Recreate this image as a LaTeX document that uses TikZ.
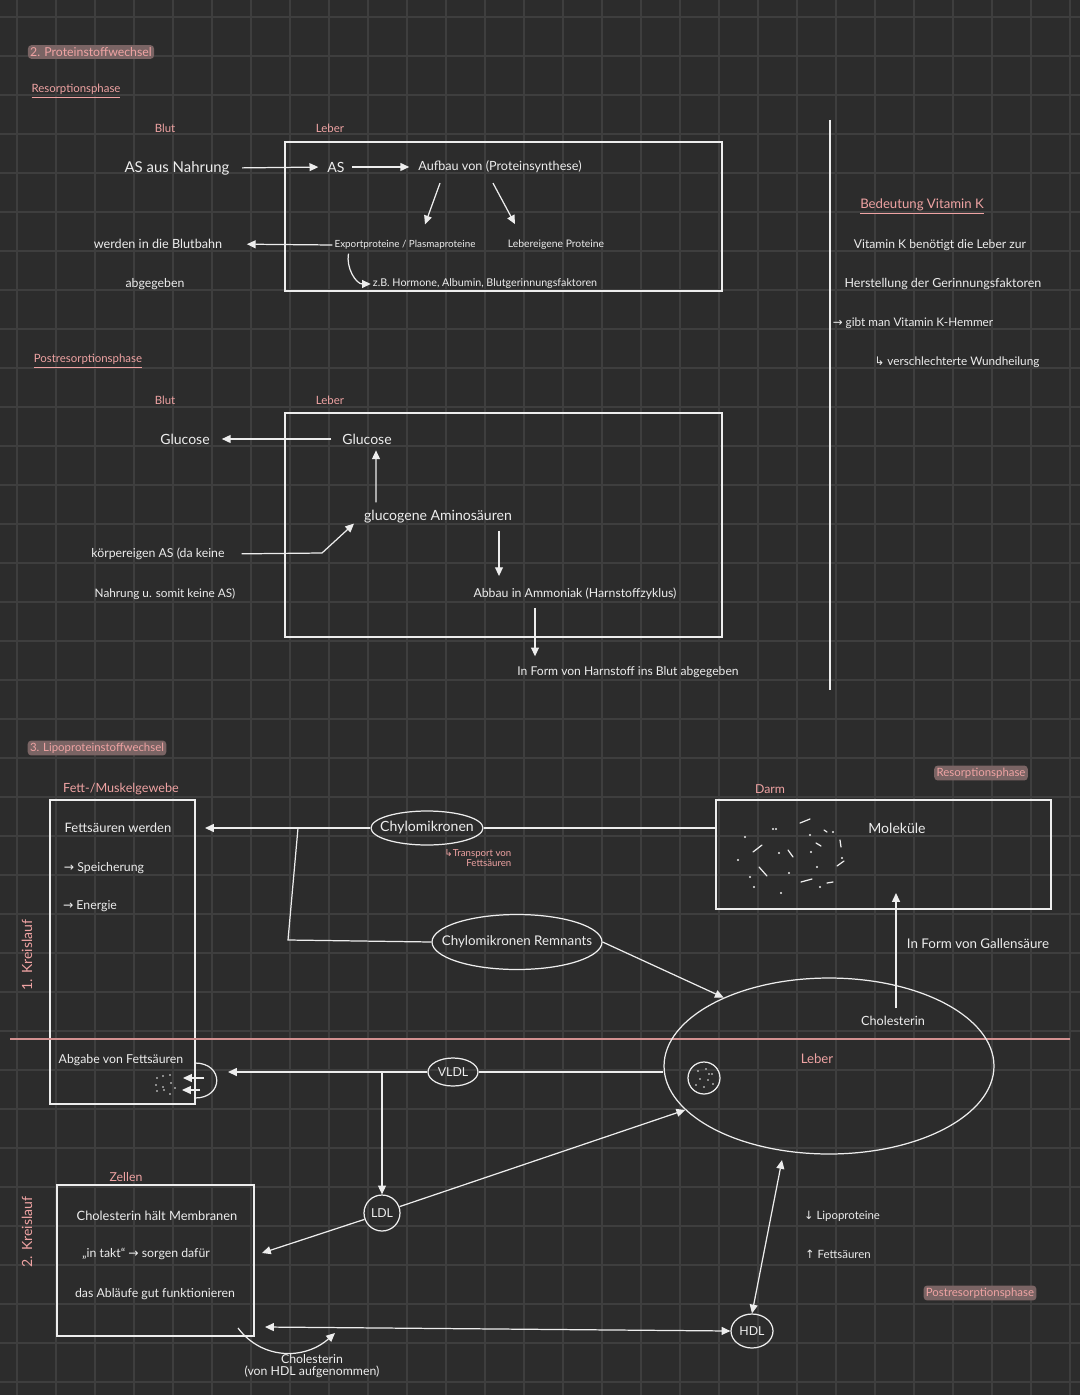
\documentclass[tikz,border=0pt]{standalone}
\usepackage{fontspec}
\setmainfont{Lato}
\newfontfamily\symfont{DejaVu Sans}
\usetikzlibrary{arrows.meta,shapes.geometric,calc}

\definecolor{bg}{HTML}{2C2C2C}
\definecolor{gridc}{HTML}{3E3E3E}
\definecolor{rosa}{HTML}{EFA3A3}
\definecolor{hl}{HTML}{7A6464}
\definecolor{kreide}{HTML}{EDEDED}
\newcommand{\fs}[1]{\fontsize{#1}{#1}\selectfont}
\newcommand{\pfeil}[1]{{\symfont #1}}

\tikzset{
  txt/.style={text=kreide, font=\fs{7.5}, inner sep=1pt},
  rosatxt/.style={text=rosa, font=\fs{6.5}, inner sep=1pt},
  marker/.style={text=rosa, fill=hl, font=\fs{6.5}, inner sep=1.3pt, rounded corners=2pt},
  kasten/.style={draw=kreide, line width=0.8pt},
  linie/.style={draw=kreide, line width=0.7pt},
  pfeilstil/.style={linie, -{Triangle[length=5pt,width=4.5pt]}},
  doppelpfeil/.style={linie, {Triangle[length=5pt,width=4.5pt]}-{Triangle[length=5pt,width=4.5pt]}},
  oval/.style={ellipse, draw=kreide, line width=0.7pt, text=kreide, inner xsep=-10pt, inner ysep=0pt},
}

\begin{document}
\begin{tikzpicture}[x=0.02cm, y=-0.02cm]
% hintergrund + raster
\fill[bg] (0,0) rectangle (1080,1395);
\useasboundingbox (0,0) rectangle (1080,1395);
\foreach \g in {17,56,...,1080} \draw[gridc, line width=0.6pt] (\g,0) -- (\g,1395);
\foreach \g in {17,56,...,1395} \draw[gridc, line width=0.6pt] (0,\g) -- (1080,\g);

%%%%% 2. Proteinstoffwechsel %%%%%
\node[marker, font=\fs{7}] (titelprot) at (91,52) {2. Proteinstoffwechsel};
\node[rosatxt] (resphase) at (76,91) {\underline{Resorptionsphase}};
\node[rosatxt] (blutA) at (165,128) {Blut};
\node[rosatxt] (leberA) at (330,128) {Leber};
\draw[kasten] (285,142) rectangle (722,291);

\node[txt, font=\fs{8.5}] (asnahrung) at (177,168) {AS aus Nahrung};
\node[txt, font=\fs{8}] (as) at (336,167) {AS};
\node[txt, font=\fs{7.2}] (aufbau) at (500,167) {Aufbau von (Proteinsynthese)};
\node[txt, font=\fs{5.6}] (export) at (405,245) {Exportproteine / Plasmaproteine};
\node[txt, font=\fs{5.9}] (lebereigen) at (556,245) {Lebereigene Proteine};
\node[txt, font=\fs{7.2}] (blutbahn) at (158,244) {werden in die Blutbahn};
\node[txt, font=\fs{7}] (abgegeben) at (155,284) {abgegeben};
\node[txt, font=\fs{6.1}] (zb) at (485,284) {z.B. Hormone, Albumin, Blutgerinnungsfaktoren};

\draw[pfeilstil, shorten <=6pt, shorten >=4pt] (asnahrung.east) -- (as.west);
\draw[pfeilstil, shorten <=3pt, shorten >=4pt] (as.east) -- (aufbau.west);
\draw[pfeilstil] ($(aufbau.south)+(-60,8)$) -- ($(export.north)+(20,-14)$);
\draw[pfeilstil] ($(aufbau.south)+(-7,8)$) -- ($(lebereigen.north)+(-41,-14)$);
\draw[pfeilstil, shorten >=0.45cm] (export.west) -- (blutbahn.east);
\draw[pfeilstil] ($(export.south west)+(16,2)$) to[out=-100, in=180] (zb.west);

% Bedeutung Vitamin K
\draw[linie] (830,120) -- (830,690);
\node[rosatxt, font=\fs{7.5}] (bedeutung) at (922,207) {\underline{Bedeutung Vitamin K}};
\node[txt, font=\fs{6.9}] (vitk1) at (940,245) {Vitamin K benötigt die Leber zur};
\node[txt, font=\fs{7.1}] (vitk2) at (943,284) {Herstellung der Gerinnungsfaktoren};
\node[txt, font=\fs{6.7}] (vitk3) at (913,323) {\pfeil{→} gibt man Vitamin K-Hemmer};
\node[txt, font=\fs{6.7}] (vitk4) at (957,362) {\pfeil{↳} verschlechterte Wundheilung};

%%%%% Postresorptionsphase %%%%%
\node[rosatxt] (postphase) at (88,361) {\underline{Postresorptionsphase}};
\node[rosatxt] (blutB) at (165,400) {Blut};
\node[rosatxt] (leberB) at (330,400) {Leber};
\draw[kasten] (285,413) rectangle (722,637);

\node[txt, font=\fs{8}] (glucoseblut) at (185,439) {Glucose};
\node[txt, font=\fs{8}] (glucoseleber) at (367,439) {Glucose};
\node[txt, font=\fs{8}] (glucogen) at (438,517) {glucogene Aminosäuren};
\node[txt, font=\fs{7}] (koerper) at (158,554) {körpereigen AS (da keine};
\node[txt, font=\fs{6.7}] (nahrung) at (165,594) {Nahrung u. somit keine AS)};
\node[txt, font=\fs{7}] (abbau) at (575,594) {Abbau in Ammoniak (Harnstoffzyklus)};
\node[txt, font=\fs{6.9}] (harnstoff) at (628,672) {In Form von Harnstoff ins Blut abgegeben};

\draw[pfeilstil, shorten <=5pt, shorten >=0.2cm] (glucoseleber.west) -- (glucoseblut.east);
\draw[pfeilstil] ($(glucogen.north west)+(14,-6)$) -- ($(glucoseleber.south)+(9,4)$);
\coordinate (knickA) at (322,553);
\draw[pfeilstil, shorten <=0.3cm] (koerper.east) -- (knickA) -- ($(glucogen.south west)+(-8,-2)$);
\draw[pfeilstil] ($(glucogen.south)+(61,5)$) -- ($(abbau.north)+(-76,-10)$);
\draw[pfeilstil] ($(abbau.south)+(-40,6)$) -- ($(harnstoff.north)+(-93,-8)$);

%%%%% 3. Lipoproteinstoffwechsel %%%%%
\node[marker] (titellipo) at (97,748) {3. Lipoproteinstoffwechsel};
\node[rosatxt, font=\fs{7.2}] (fettlbl) at (121,789) {Fett-/Muskelgewebe};
\draw[kasten] (50,800) rectangle (195,1104);
\node[txt, font=\fs{7.4}] (fs1) at (118,828) {Fettsäuren werden};
\node[txt, font=\fs{7}] (fs2) at (104,868) {\pfeil{→} Speicherung};
\node[txt, font=\fs{7}] (fs3) at (90,906) {\pfeil{→} Energie};
\node[txt, font=\fs{7}] (abgabe) at (121,1060) {Abgabe von Fettsäuren};
\node[rosatxt, rotate=90, font=\fs{8}] (kreis1) at (27,955) {1. Kreislauf};
\node[rosatxt, rotate=90, font=\fs{8}] (kreis2) at (27,1232) {2. Kreislauf};
\draw[rosa!85!bg, line width=0.8pt] (10,1039) -- (1070,1039);

% freisetzung aus dem Fettgewebe
\draw[linie] (195,1063) .. controls (224,1063) and (224,1098) .. (195,1098);
\draw[pfeilstil, line width=0.6pt] (204,1078) -- (183,1078);
\draw[pfeilstil, line width=0.6pt] (200,1090) -- (182,1090);
\foreach \p in {(157,1078),(163,1076),(170,1075),(156,1085),(163,1087),(171,1083),(157,1091),(164,1090),(175,1088),(170,1094)}
  \fill[kreide] \p circle[radius=0.55pt];

% Darm
\node[rosatxt, font=\fs{7}] (darm) at (770,789) {Darm};
\node[marker] (resphase2) at (981,773) {Resorptionsphase};
\draw[kasten] (716,800) rectangle (1051,909);
\node[txt, font=\fs{8}] (molekuele) at (897,828) {Moleküle};
\foreach \p in {(745,837),(738,860),(750,877),(754,887),(781,893),(776,829),(779,853),(789,873),(810,835),(811,852),(817,867),(820,887),(833,832),(842,858),(773,829)}
  \fill[kreide] \p circle[radius=0.6pt];
\foreach \a/\b/\c/\d in {800/823/810/819,753/852/762/845,759/867/767/876,788/850/793/857,801/882/812/879,827/883/833/882,837/866/844/861,840/840/841/847,816/843/821/846,824/830/827/832}
  \draw[kreide, line width=0.7pt, line cap=round] (\a,\b) -- (\c,\d);
\node[txt, font=\fs{7.6}] (galle) at (978,944) {In Form von Gallensäure};
\node[txt, font=\fs{7.2}] (chol) at (893,1021) {Cholesterin};

% Lipoproteine
\node[oval, minimum width=2.24cm, minimum height=0.68cm, font=\fs{8}] (chylo) at (427,828) {Chylomikronen};
\node[rosatxt, font=\fs{5.5}, align=right] (transport) at (478,858) {\pfeil{↳}Transport von\\Fettsäuren};
\node[oval, minimum width=3.4cm, minimum height=1.1cm, font=\fs{7.6}] (remnants) at (517,942) {Chylomikronen Remnants};
\node[oval, minimum width=6.6cm, minimum height=3.52cm] (leberoval) at (829,1066) {};
\node[rosatxt, font=\fs{7.5}] (leberC) at (817,1059) {Leber};
\node[circle, draw=kreide, line width=0.7pt, minimum size=0.64cm, inner sep=0pt] (vesikel) at (704,1078) {};
\foreach \p in {(698,1071),(706,1069),(712,1074),(700,1079),(708,1080),(696,1085),(704,1087),(713,1084),(709,1074)}
  \fill[kreide] \p circle[radius=0.45pt];
\node[oval, minimum width=1cm, minimum height=0.56cm, font=\fs{7}] (vldl) at (453,1072) {VLDL};
\node[circle, draw=kreide, line width=0.7pt, minimum size=0.72cm, inner sep=0pt, text=kreide, font=\fs{7}] (ldl) at (382,1213) {LDL};
\node[oval, minimum width=0.84cm, minimum height=0.68cm, font=\fs{7}] (hdl) at (752,1331) {HDL};

\coordinate (fettein) at (205,828);
\coordinate (darmW) at (716,828);
\coordinate (abzweig) at (298,828);
\coordinate (knickB) at (288,940);
\draw[pfeilstil] (chylo.west) -- (fettein);
\draw[linie] (chylo.east) -- (darmW);
\draw[linie] (abzweig) -- (knickB) -- (remnants.west);
\draw[pfeilstil] (remnants.east) -- (leberoval.147);
\coordinate (darmS) at (896,893);
\draw[pfeilstil] ($(chol.north)+(3,-6)$) -- (darmS);

\coordinate (fettaus) at (228,1072);
\draw[linie] (leberoval.west |- vldl.east) -- (vldl.east);
\draw[pfeilstil] (vldl.west) -- (fettaus);
\draw[pfeilstil] (ldl.north |- vldl.west) -- (ldl.north);
\draw[pfeilstil] (ldl.20) -- (leberoval.197);

% Zellen
\node[rosatxt, font=\fs{7}] (zellenlbl) at (126,1177) {Zellen};
\draw[kasten] (57,1185) rectangle (254,1336);
\node[txt, font=\fs{7.3}] (z1) at (157,1216) {Cholesterin hält Membranen};
\node[txt, font=\fs{7}] (z2) at (146,1254) {„in takt“ \pfeil{→} sorgen dafür};
\node[txt, font=\fs{7}] (z3) at (155,1294) {das Abläufe gut funktionieren};

\coordinate (zellenR) at (262,1253);
\coordinate (zellenU) at (265,1327);
\draw[pfeilstil] (ldl.200) -- (zellenR);
\draw[doppelpfeil] (zellenU) -- (hdl.west);
\coordinate (leberS) at (782,1160);
\draw[doppelpfeil] (leberS) -- (hdl.north);
\coordinate (cholA) at (238,1328);
\coordinate (cholB) at (335,1333);
\draw[pfeilstil] (cholA) .. controls (262,1360) and (305,1360) .. (cholB);
\node[txt, font=\fs{7}, align=center] (cholhdl) at (312,1366) {Cholesterin\\(von HDL aufgenommen)};

\node[txt, font=\fs{6.5}] (lipo) at (842,1216) {\pfeil{↓} Lipoproteine};
\node[txt, font=\fs{6.5}] (fettsaeure) at (838,1254) {\pfeil{↑} Fettsäuren};
\node[marker] (postphase2) at (980,1293) {Postresorptionsphase};
\end{tikzpicture}
\end{document}
